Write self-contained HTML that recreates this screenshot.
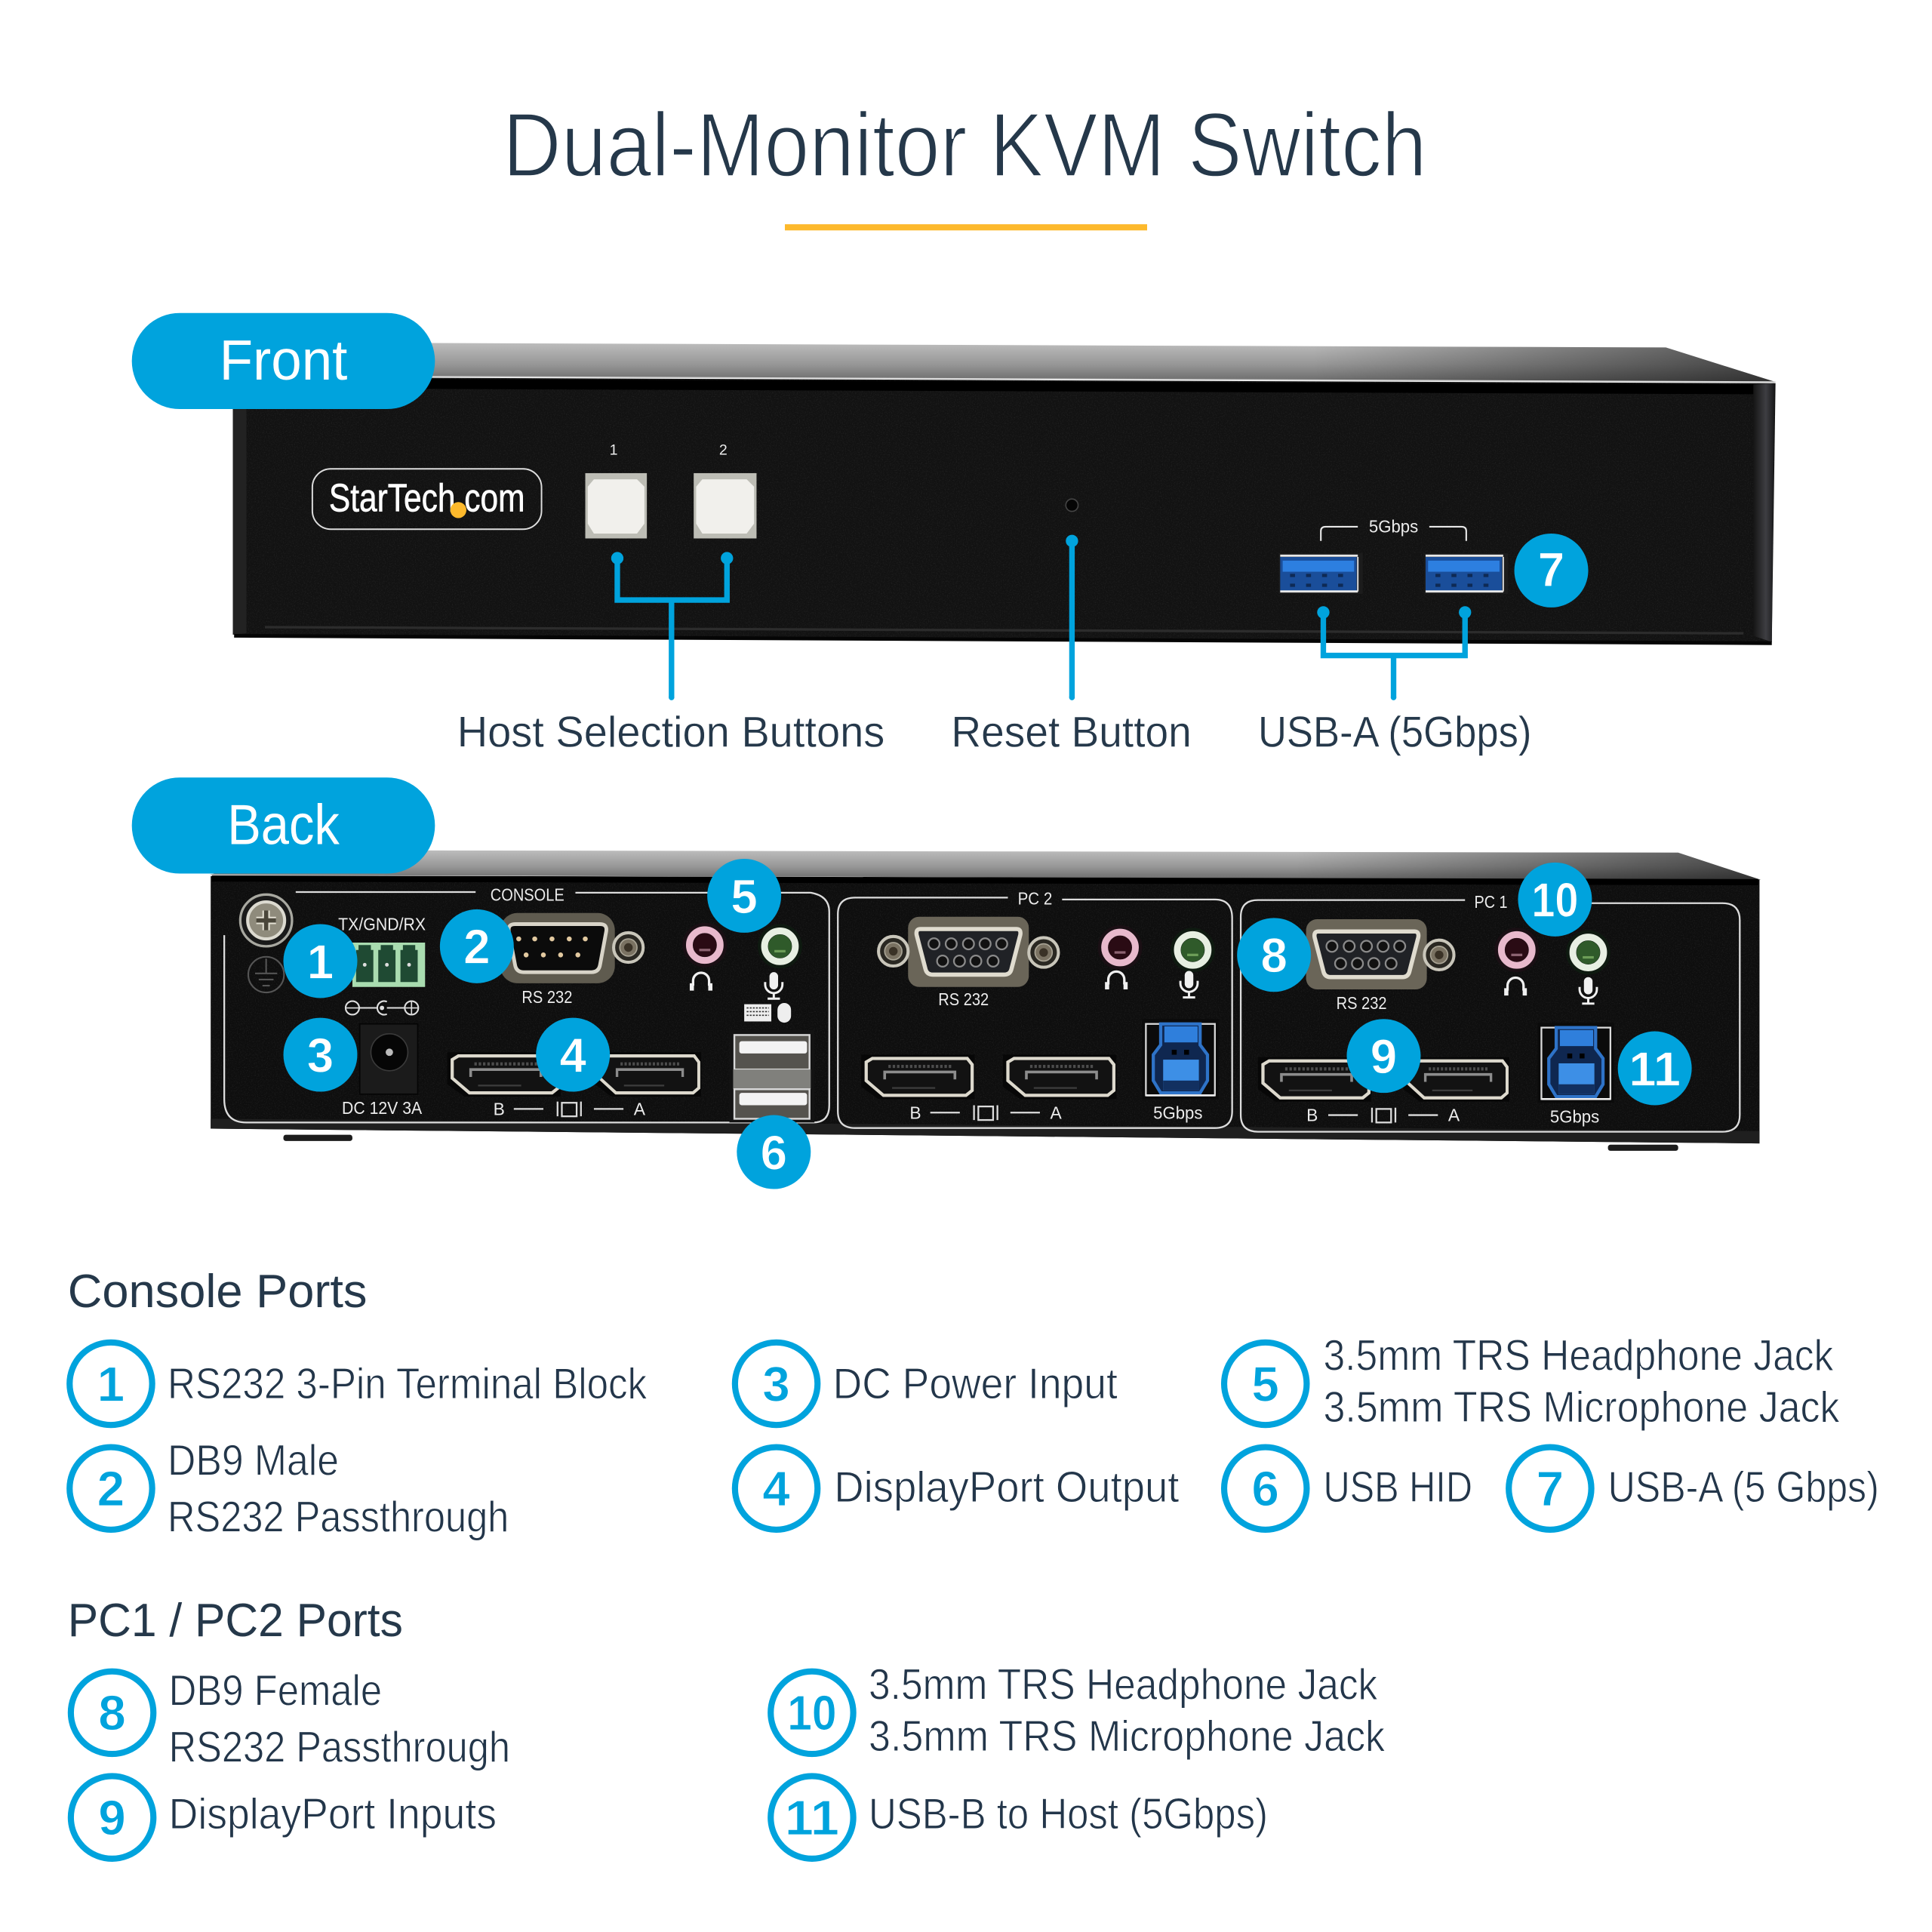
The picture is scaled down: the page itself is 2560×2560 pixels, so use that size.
<!DOCTYPE html>
<html><head><meta charset="utf-8"><title>Dual-Monitor KVM Switch</title>
<style>
html,body{margin:0;padding:0;background:#fff}
svg{display:block;width:2560px;height:2560px}
text{font-family:"Liberation Sans",sans-serif}
.h{fill:#25384a}
.l{fill:#23364a;font-size:35px;stroke:#fff;stroke-width:.55px}
.lab{fill:#25384a;font-size:35px;stroke:#fff;stroke-width:.25px}
.w{fill:#ececec;font-size:14px;text-anchor:middle}
.n{fill:#fff;font-size:39px;font-weight:700;text-anchor:middle;stroke:#00a3dd;stroke-width:.5px}
.o{fill:#00a3dd;font-size:40px;font-weight:700;text-anchor:middle;stroke:#fff;stroke-width:.5px}
.line{stroke:#00a3dd;stroke-width:4.5;fill:none}
.p{fill:none;stroke:#dcdcdc;stroke-width:1.4}
</style></head><body>
<svg xmlns="http://www.w3.org/2000/svg" viewBox="0 0 1568 1568">
<defs>
<linearGradient id="top" x1="0" y1="0" x2="0" y2="1"><stop offset="0" stop-color="#bdbdbd"/><stop offset=".55" stop-color="#979797"/><stop offset="1" stop-color="#6a6a6a"/></linearGradient>
<linearGradient id="rt" x1="0" y1="0" x2="1" y2="0"><stop offset=".7" stop-color="#000" stop-opacity="0"/><stop offset="1" stop-color="#000" stop-opacity=".55"/></linearGradient>
<linearGradient id="fold" x1="0" y1="0" x2="1" y2="0"><stop offset="0" stop-color="#151515"/><stop offset=".6" stop-color="#3e3e42"/><stop offset="1" stop-color="#1a1a1c"/></linearGradient>
<filter id="grain" x="0" y="0" width="100%" height="100%"><feTurbulence type="fractalNoise" baseFrequency="1.1" numOctaves="2" seed="4"/><feColorMatrix values="0 0 0 0 1  0 0 0 0 1  0 0 0 0 1  1.6 0 0 0 -.75"/><feComposite in2="SourceGraphic" operator="in"/></filter>
<g id="dp">
<path d="M0 0H92V36H14L0 26Z" fill="#070707"/>
<path d="M4 6L9 3H86L90 8V29L85 33H18L4 21Z" fill="#121212" stroke="#ddd9cd" stroke-width="2.6"/>
<path d="M19 20V14H76V20" fill="none" stroke="#8c8c8c" stroke-width="2.2"/>
<path d="M22 9.500H74" stroke="#4d4d4d" stroke-width="2.6" stroke-dasharray="2 1.500"/>
<path d="M25 27H60" stroke="#3d3d3d" stroke-width="1.400"/>
</g>
<g id="usbb">
<rect width="62" height="65" fill="#0b0b0b"/>
<rect x="3" y="4" width="56" height="58" fill="none" stroke="#d9d9d9" stroke-width="1.400"/>
<path d="M15 4H47V21L53 29V50L47 60H15L9 50V29L15 21Z" fill="#0f2750" stroke="#2e73c8" stroke-width="2.600"/>
<rect x="18" y="6" width="27" height="13" fill="#2f7fdc"/>
<rect x="17" y="33" width="29" height="25" fill="#3d8fe6"/>
<rect x="17" y="50" width="29" height="8" fill="#123060"/>
<rect x="24" y="25" width="4" height="4" fill="#000"/><rect x="34" y="25" width="4" height="4" fill="#000"/>
<path d="M3 62H59" stroke="#eee" stroke-width="1.600"/>
</g>
<g id="usba">
<rect width="68" height="33" fill="#1c1c1c"/>
<rect x="1" y="3" width="62" height="28" fill="#1a4e9a"/>
<rect x="3" y="6" width="58" height="9" fill="#2d7fe0"/>
<path d="M1 2H64M1 31H64" stroke="#e8e8e8" stroke-width="1.800"/>
<path d="M9 18h4M22 18h4M35 18h4M48 18h4M9 26h4M22 26h4M35 26h4M48 26h4" stroke="#0e2a55" stroke-width="2.600"/>
<path d="M64 3V31" stroke="#ddd" stroke-width="1.200"/>
</g>
<g id="pink">
<circle r="18" fill="#1a0f14"/><circle r="12.500" fill="none" stroke="#e8b9cc" stroke-width="5.500"/><circle r="9.500" fill="#2a0b14"/><rect x="-4.500" y="3" width="9" height="2" fill="#8d6472"/>
</g>
<g id="green">
<circle r="18" fill="#0e1a10"/><circle r="12.500" fill="none" stroke="#e7efe2" stroke-width="5.500"/><circle r="9.500" fill="#2f5a2a"/><rect x="-4.500" y="3" width="9" height="2" fill="#6d9e58"/>
</g>
<g id="hp" fill="none" stroke="#f0f0f0">
<path d="M-6.500 4V0A6.500 6.500 0 0 1 6.500 0V4" stroke-width="2"/>
<path d="M-7.500 2V8M7.500 2V8" stroke-width="3.400"/>
</g>
<g id="mic" fill="none" stroke="#f0f0f0">
<rect x="-3.500" y="-9" width="7" height="14" rx="3.500" fill="#f0f0f0" stroke="none"/>
<path d="M-7 -1V1A7 7 0 0 0 7 1V-1M0 8V12M-5 12.500H5" stroke-width="1.800"/>
</g>
<g id="screw">
<circle r="12" fill="#2a2822" stroke="#c9c6ba" stroke-width="2.500"/><circle r="7" fill="#7a7262" stroke="#aaa596"/><circle r="3.500" fill="#3a3226"/>
</g>
<g id="dpk" class="p">
<path d="M0 0H24M65 0H89"/><rect x="39" y="-5" width="12" height="11" fill="none"/><path d="M35.500 -6V6M54.500 -6V6"/>
</g>
<g id="female">
<rect x="0" y="0" width="98" height="57" rx="9" fill="#6a6558"/>
<path d="M10 10H88Q92 10 91 15L84 42Q83 47 78 47H20Q15 47 14 42L7 15Q6 10 10 10Z" fill="#202226" stroke="#e0dccf" stroke-width="3.400"/>
<g fill="#111" stroke="#8a8a8a" stroke-width="1.400">
<circle cx="21" cy="22" r="4.500"/><circle cx="35" cy="22" r="4.500"/><circle cx="49" cy="22" r="4.500"/><circle cx="62.500" cy="22" r="4.500"/><circle cx="76" cy="22" r="4.500"/>
<circle cx="28" cy="36" r="4.500"/><circle cx="41.700" cy="36" r="4.500"/><circle cx="55" cy="36" r="4.500"/><circle cx="69" cy="36" r="4.500"/>
</g>
</g>
</defs>
<rect width="1568" height="1568" fill="#fff"/>

<text x="408" y="143" textLength="750" lengthAdjust="spacingAndGlyphs" font-size="74" class="h" stroke="#fff" stroke-width="1.500">Dual-Monitor KVM Switch</text>
<rect x="637" y="182" width="294" height="5" fill="#fdb92c"/>

<!-- FRONT -->
<polygon points="240,278 1352,282 1441,310 189,305" fill="url(#top)"/>
<polygon points="240,278 1352,282 1441,310 189,305" fill="url(#rt)"/>
<path d="M189 305L1441 310" stroke="#d5d5d5" stroke-width="1"/>
<polygon points="189,306 1441,311 1438,521 189,515" fill="#121212"/>
<polygon points="189,306 1441,311 1438,521 189,515" filter="url(#grain)" opacity=".1"/>
<path d="M195 311L1428 316" stroke="#000" stroke-width="8"/>
<polygon points="1423,312 1440,311 1438,521 1423,516" fill="url(#fold)"/>
<polygon points="189,330 200,330 200,514 189,515" fill="#222"/>
<path d="M215 509L1415 514" stroke="#2c2c2c" stroke-width="2"/>
<path d="M190 516L1438 522" stroke="#050505" stroke-width="3"/>

<rect x="253.500" y="380.500" width="186" height="49" rx="15" fill="none" stroke="#ddd" stroke-width="1.200"/>
<text x="267" y="415" textLength="159" lengthAdjust="spacingAndGlyphs" font-size="32" fill="#fff" stroke="#fff" stroke-width=".4">StarTech.com</text>
<circle cx="372" cy="414" r="6.500" fill="#fdb92c"/>
<text x="498" y="369" class="w" style="font-size:12px">1</text>
<text x="587" y="369" class="w" style="font-size:12px">2</text>
<rect x="475" y="384" width="50" height="53" fill="#bdbdb5"/>
<path d="M482 389H517L523 395V425L517 433H482L477 425V395Z" fill="#f1f0ec"/>
<rect x="563" y="384" width="51" height="53" fill="#bdbdb5"/>
<path d="M570 389H606L612 395V425L606 433H570L565 425V395Z" fill="#f1f0ec"/>
<circle cx="870" cy="410" r="5" fill="#050505" stroke="#444" stroke-width="1"/>

<use href="#usba" x="1038" y="449"/>
<use href="#usba" x="1156" y="449"/>
<text x="1131" y="432" class="w" textLength="40" lengthAdjust="spacingAndGlyphs">5Gbps</text>
<path d="M1072 439V431Q1072 427.500 1076 427.500H1102M1160 427.500H1186Q1190 427.500 1190 431V439" fill="none" stroke="#e8e8e8" stroke-width="1.300"/>

<g class="line">
<path d="M501 453V487H590V453M545 487V566"/>
<path d="M870 439V566M1074 497V532H1189V497M1131 532V566"/>
</g>
<g fill="#00a3dd"><circle cx="501" cy="453" r="5"/><circle cx="590" cy="453" r="5"/><circle cx="870" cy="439" r="5"/><circle cx="1074" cy="497" r="5"/><circle cx="1189" cy="497" r="5"/><circle cx="545" cy="566" r="2.300"/><circle cx="870" cy="566" r="2.300"/><circle cx="1131" cy="566" r="2.300"/></g>

<circle cx="1259" cy="463" r="30" fill="#00a3dd"/><text x="1259" y="476" class="n">7</text>

<rect x="107" y="254" width="246" height="78" rx="39" fill="#00a3dd"/>
<text x="230" y="308" text-anchor="middle" font-size="46" fill="#fff" textLength="104" lengthAdjust="spacingAndGlyphs">Front</text>

<text x="371" y="606" textLength="347" lengthAdjust="spacingAndGlyphs" class="lab">Host Selection Buttons</text>
<text x="772" y="606" textLength="195" lengthAdjust="spacingAndGlyphs" class="lab">Reset Button</text>
<text x="1021" y="606" textLength="222" lengthAdjust="spacingAndGlyphs" class="lab">USB-A (5Gbps)</text>

<!-- BACK -->
<polygon points="250,690 1362,692 1429,714 170,710" fill="url(#top)"/>
<polygon points="250,690 1362,692 1429,714 170,710" fill="url(#rt)"/>
<polygon points="171,711 1428,714 1428,928 171,916" fill="#0e0e0e"/>
<polygon points="171,711 1428,714 1428,928 171,916" filter="url(#grain)" opacity=".1"/>
<polygon points="171,908 1428,918 1428,928 171,916" fill="#1f1f1f"/>
<path d="M172 713L1427 716" stroke="#000" stroke-width="5"/>
<rect x="230" y="921" width="56" height="5" rx="2" fill="#1c1c1c"/>
<rect x="1305" y="929" width="57" height="5" rx="2" fill="#1c1c1c"/>

<!-- panels -->
<g class="p">
<path d="M240 724H386M467 724.500H658Q673 727 673 740V897Q673 911 660 911H200Q182 911 182 892V759"/>
<path d="M818 728.500H694Q680 728.500 680 742V902Q680 915.500 694 915.500H986Q1000 915.500 1000 902V745Q1000 730 986 730H862"/>
<path d="M1189 730.500H1021Q1007 730.500 1007 744V905Q1007 918.500 1021 918.500H1398Q1412 918.500 1412 905V747Q1412 733 1398 733H1291"/>
</g>
<text x="428" y="731" class="w" textLength="60" lengthAdjust="spacingAndGlyphs">CONSOLE</text>
<text x="840" y="734" class="w" textLength="28" lengthAdjust="spacingAndGlyphs">PC 2</text>
<text x="1210" y="737" class="w" textLength="27" lengthAdjust="spacingAndGlyphs">PC 1</text>

<!-- console -->
<circle cx="216" cy="747" r="21" fill="#1a1a1a" stroke="#a8a8a0" stroke-width="2"/>
<circle cx="216" cy="747" r="15" fill="#8f8b7c" stroke="#dcdad0" stroke-width="2.500"/>
<path d="M216 739V755M208 747H224" stroke="#e4e1d4" stroke-width="6"/>
<path d="M216 739V755M208 747H224" stroke="#4a463a" stroke-width="3.500"/>
<circle cx="216" cy="791" r="14.500" fill="none" stroke="#555" stroke-width="1.300"/>
<path d="M216 778V790M207 790H225M210 795H222M213 800H219" stroke="#555" stroke-width="1.300"/>
<text x="310" y="755" class="w" textLength="71" lengthAdjust="spacingAndGlyphs">TX/GND/RX</text>
<rect x="286" y="765" width="59" height="36" fill="#a9dcb0"/>
<path d="M289 771V797H303V771H301V767H291V771ZM307 771V797H321V771H319V767H309V771ZM325 771V797H339V771H337V767H327V771Z" fill="#1f4a33"/>
<circle cx="296" cy="783" r="1.500" fill="#ddd"/><circle cx="314" cy="783" r="1.500" fill="#ddd"/><circle cx="332" cy="783" r="1.500" fill="#ddd"/>
<path d="M291 818H329" stroke="#ddd" stroke-width="1.200"/>
<g fill="#0d0d0d" stroke="#ddd" stroke-width="1.300"><circle cx="286" cy="818" r="5.500"/><circle cx="334" cy="818" r="5.500"/></g>
<path d="M314 813A5.500 5.500 0 1 0 314 823" fill="#0d0d0d" stroke="#ddd" stroke-width="1.300"/><circle cx="310" cy="818" r="1.800" fill="#ddd"/>
<path d="M281 818H291M334 813V823M329 818H339" stroke="#ddd" stroke-width="1"/>

<rect x="406" y="741" width="93" height="57" rx="14" fill="#5f5b4f"/>
<path d="M418 750H487Q493 750 492 756L487 783Q486 789 480 789H425Q419 789 418 783L413 756Q412 750 418 750Z" fill="#0b0b0b" stroke="#d8d4c8" stroke-width="3"/>
<g fill="#e2c9a0"><circle cx="421" cy="762" r="2"/><circle cx="434" cy="762" r="2"/><circle cx="448" cy="762" r="2"/><circle cx="462" cy="762" r="2"/><circle cx="475" cy="762" r="2"/><circle cx="427" cy="775" r="2"/><circle cx="441" cy="775" r="2"/><circle cx="455" cy="775" r="2"/><circle cx="469" cy="775" r="2"/></g>
<use href="#screw" x="510" y="769"/>
<text x="444" y="814" class="w" textLength="41" lengthAdjust="spacingAndGlyphs">RS 232</text>
<use href="#pink" x="572" y="767"/><use href="#green" x="633" y="768"/>
<use href="#hp" x="569" y="796"/><use href="#mic" x="628" y="798"/>
<rect x="604" y="815" width="22" height="14" fill="#eee"/><path d="M606 818h18M606 821h18M606 824h18" stroke="#333" stroke-width="1" stroke-dasharray="1.500 1"/>
<rect x="631" y="814" width="11" height="16" rx="5.500" fill="#eee"/>

<rect x="292" y="831" width="47" height="57" fill="#1b1b1b" stroke="#050505"/>
<circle cx="316" cy="854" r="15" fill="#060606" stroke="#3a3a3a"/><circle cx="316" cy="854" r="3" fill="#bbb"/>
<text x="310" y="904" class="w" textLength="65" lengthAdjust="spacingAndGlyphs">DC 12V 3A</text>

<use href="#dp" x="363" y="854"/>
<use href="#dp" transform="translate(483 854) scale(.935 1)"/>
<text x="405" y="905" class="w">B</text>
<use href="#dpk" x="417" y="900"/>
<text x="519" y="905" class="w">A</text>

<rect x="592" y="836" width="69" height="75" fill="#131313"/>
<rect x="596" y="840" width="61" height="28" fill="#55534e" stroke="#d8d8d8" stroke-width="1.500"/>
<rect x="600" y="845" width="55" height="10" rx="2" fill="#f3f3f3"/>
<rect x="595" y="868" width="63" height="16" fill="#80807c"/>
<rect x="596" y="884" width="61" height="24" fill="#55534e" stroke="#d8d8d8" stroke-width="1.500"/>
<rect x="600" y="887" width="55" height="10" rx="2" fill="#f3f3f3"/>

<!-- PC2 -->
<use href="#female" x="737" y="744"/>
<use href="#screw" x="725" y="772"/><use href="#screw" x="847" y="773"/>
<text x="782" y="816" class="w" textLength="41" lengthAdjust="spacingAndGlyphs">RS 232</text>
<use href="#pink" x="909" y="769"/><use href="#green" x="968" y="771"/>
<use href="#hp" x="906" y="795"/><use href="#mic" x="965" y="797"/>
<use href="#usbb" x="927" y="827"/>
<use href="#dp" x="699" y="856"/><use href="#dp" x="814" y="856"/>
<text x="743" y="908" class="w">B</text>
<use href="#dpk" x="755" y="903"/>
<text x="857" y="908" class="w">A</text>
<text x="956" y="908" class="w" textLength="40" lengthAdjust="spacingAndGlyphs">5Gbps</text>

<!-- PC1 -->
<use href="#female" x="1060" y="746"/>
<use href="#screw" x="1168" y="775"/>
<text x="1105" y="819" class="w" textLength="41" lengthAdjust="spacingAndGlyphs">RS 232</text>
<use href="#pink" x="1231" y="771"/><use href="#green" x="1289" y="773"/>
<use href="#hp" x="1230" y="800"/><use href="#mic" x="1289" y="802"/>
<use href="#usbb" x="1248" y="830"/>
<use href="#dp" x="1021" y="858"/><use href="#dp" transform="translate(1139 858) scale(.935 1)"/>
<text x="1065" y="910" class="w">B</text>
<use href="#dpk" x="1078" y="905"/>
<text x="1180" y="910" class="w">A</text>
<text x="1278" y="911" class="w" textLength="40" lengthAdjust="spacingAndGlyphs">5Gbps</text>

<!-- filled callouts -->
<g fill="#00a3dd">
<circle cx="260" cy="780" r="30"/><circle cx="387" cy="768" r="30"/><circle cx="260" cy="856" r="30"/><circle cx="465" cy="856" r="30"/><circle cx="604" cy="727" r="30"/><circle cx="628" cy="935" r="30"/><circle cx="1034" cy="775" r="30"/><circle cx="1123" cy="857" r="30"/><circle cx="1262" cy="730" r="30"/><circle cx="1343" cy="867" r="30"/>
</g>
<text x="260" y="794" class="n">1</text><text x="387" y="782" class="n">2</text><text x="260" y="870" class="n">3</text><text x="465" y="870" class="n">4</text><text x="604" y="741" class="n">5</text><text x="628" y="949" class="n">6</text><text x="1034" y="789" class="n">8</text><text x="1123" y="871" class="n">9</text><text x="1262" y="744" class="n" textLength="38" lengthAdjust="spacingAndGlyphs">10</text><text x="1343" y="881" class="n" textLength="42" lengthAdjust="spacingAndGlyphs">11</text>

<rect x="107" y="631" width="246" height="78" rx="39" fill="#00a3dd"/>
<text x="230" y="685" text-anchor="middle" font-size="46" fill="#fff" textLength="91" lengthAdjust="spacingAndGlyphs">Back</text>

<!-- LEGEND -->
<text x="55" y="1061" textLength="243" lengthAdjust="spacingAndGlyphs" font-size="38" class="h">Console Ports</text>
<text x="55" y="1328" textLength="272" lengthAdjust="spacingAndGlyphs" font-size="38" class="h">PC1 / PC2 Ports</text>

<g fill="none" stroke="#00a3dd" stroke-width="5">
<circle cx="90" cy="1123" r="33.500"/><circle cx="90" cy="1208" r="33.500"/><circle cx="630" cy="1123" r="33.500"/><circle cx="630" cy="1208" r="33.500"/><circle cx="1027" cy="1123" r="33.500"/><circle cx="1027" cy="1208" r="33.500"/><circle cx="1258" cy="1208" r="33.500"/><circle cx="91" cy="1390" r="33.500"/><circle cx="91" cy="1475" r="33.500"/><circle cx="659" cy="1390" r="33.500"/><circle cx="659" cy="1475" r="33.500"/>
</g>
<text x="90" y="1137" class="o">1</text><text x="90" y="1222" class="o">2</text><text x="630" y="1137" class="o">3</text><text x="630" y="1222" class="o">4</text><text x="1027" y="1137" class="o">5</text><text x="1027" y="1222" class="o">6</text><text x="1258" y="1222" class="o">7</text><text x="91" y="1404" class="o">8</text><text x="91" y="1489" class="o">9</text><text x="659" y="1404" class="o" textLength="40" lengthAdjust="spacingAndGlyphs">10</text><text x="659" y="1489" class="o" textLength="44" lengthAdjust="spacingAndGlyphs">11</text>

<text class="l" x="136" y="1135" textLength="389" lengthAdjust="spacingAndGlyphs">RS232 3-Pin Terminal Block</text>
<text class="l" x="136" y="1197" textLength="139" lengthAdjust="spacingAndGlyphs">DB9 Male</text>
<text class="l" x="136" y="1243" textLength="277" lengthAdjust="spacingAndGlyphs">RS232 Passthrough</text>
<text class="l" x="676" y="1135" textLength="231" lengthAdjust="spacingAndGlyphs">DC Power Input</text>
<text class="l" x="677" y="1219" textLength="280" lengthAdjust="spacingAndGlyphs">DisplayPort Output</text>
<text class="l" x="1074" y="1112" textLength="414" lengthAdjust="spacingAndGlyphs">3.5mm TRS Headphone Jack</text>
<text class="l" x="1074" y="1154" textLength="419" lengthAdjust="spacingAndGlyphs">3.5mm TRS Microphone Jack</text>
<text class="l" x="1074" y="1219" textLength="121" lengthAdjust="spacingAndGlyphs">USB HID</text>
<text class="l" x="1305" y="1219" textLength="220" lengthAdjust="spacingAndGlyphs">USB-A (5 Gbps)</text>
<text class="l" x="137" y="1384" textLength="173" lengthAdjust="spacingAndGlyphs">DB9 Female</text>
<text class="l" x="137" y="1430" textLength="277" lengthAdjust="spacingAndGlyphs">RS232 Passthrough</text>
<text class="l" x="137" y="1484" textLength="266" lengthAdjust="spacingAndGlyphs">DisplayPort Inputs</text>
<text class="l" x="705" y="1379" textLength="413" lengthAdjust="spacingAndGlyphs">3.5mm TRS Headphone Jack</text>
<text class="l" x="705" y="1421" textLength="419" lengthAdjust="spacingAndGlyphs">3.5mm TRS Microphone Jack</text>
<text class="l" x="705" y="1484" textLength="324" lengthAdjust="spacingAndGlyphs">USB-B to Host (5Gbps)</text>
</svg>
</body></html>
